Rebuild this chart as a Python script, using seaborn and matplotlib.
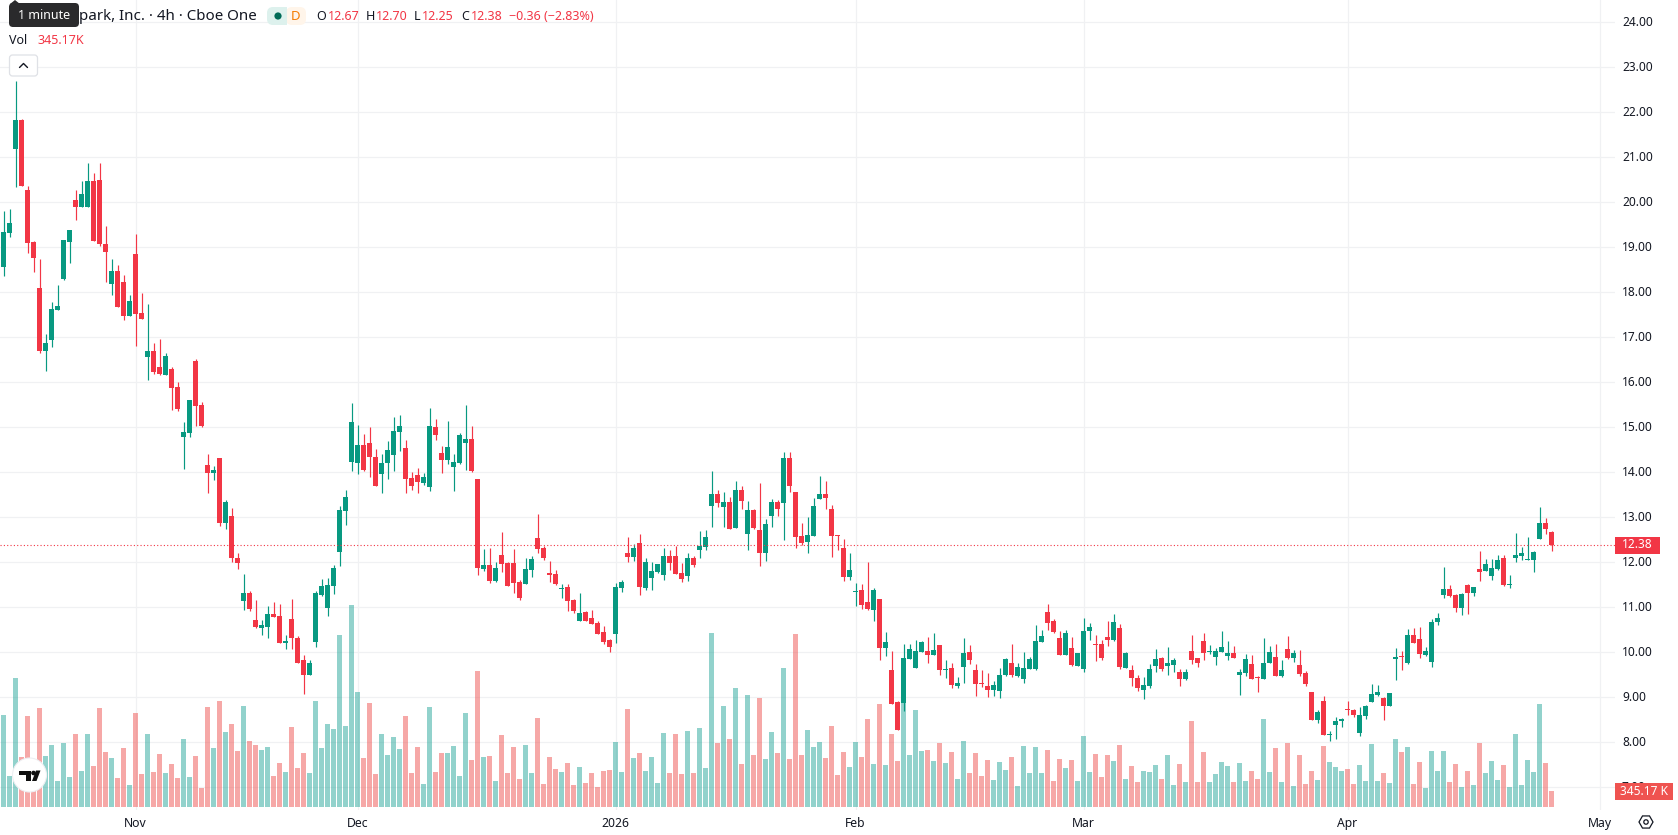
import matplotlib
matplotlib.use("Agg")
import matplotlib.pyplot as plt
from matplotlib.patches import Circle, FancyBboxPatch, Polygon, Rectangle, RegularPolygon
from matplotlib.transforms import ScaledTranslation
import numpy as np
import pandas as pd
import seaborn as sns

# Four-hour session prices, one entry per candle
opens = [
    18.56, 19.32, 21.18, 21.83, 20.27, 19.12, 18.10, 16.70, 16.94, 17.61,
    18.30, 19.12, 20.05, 19.90, 19.90, 20.47, 20.50, 19.07, 18.18, 18.47,
    18.23, 17.47, 18.85, 17.54, 16.56, 16.70, 16.34, 16.16, 16.30, 15.90,
    14.78, 14.87, 16.47, 15.50, 14.16, 13.98, 14.32, 12.87, 13.03, 12.10,
    11.14, 11.32, 10.72, 10.54, 10.56, 10.85, 10.81, 10.21, 10.74, 10.32,
    9.83, 9.50, 10.23, 11.27, 10.98, 11.47, 12.23, 13.14, 14.23, 14.21,
    14.61, 14.65, 14.34, 13.96, 14.21, 14.38, 14.90, 14.54, 13.87, 13.94,
    13.76, 13.67, 15.01, 14.43, 14.27, 14.12, 14.21, 14.65, 14.74, 13.85,
    11.85, 11.94, 11.58, 12.16, 11.98, 11.98, 11.56, 11.52, 11.83, 12.54,
    12.32, 11.76, 11.74, 11.41, 11.45, 11.16, 10.70, 10.90, 10.76, 10.65,
    10.45, 10.27, 10.41, 11.43, 12.21, 12.12, 12.43, 11.43, 11.65, 11.78,
    11.72, 12.14, 12.14, 11.76, 11.70, 12.10, 12.27, 12.34, 13.25, 13.52,
    13.23, 13.34, 12.76, 13.61, 12.63, 13.16, 12.72, 12.21, 13.03, 13.34,
    13.32, 14.32, 13.56, 12.58, 12.45, 12.58, 13.41, 13.52, 13.18, 12.61,
    12.32, 11.67, 11.34, 11.38, 11.12, 10.94, 11.18, 10.10, 9.61, 8.90,
    8.87, 9.85, 9.65, 10.01, 10.03, 9.94, 10.16, 9.61, 9.65, 9.25,
    9.67, 10.01, 9.61, 9.32, 9.25, 9.16, 9.14, 9.50, 9.76, 9.47,
    9.41, 9.63, 9.63, 10.23, 10.90, 10.70, 10.32, 9.94, 10.10, 9.70,
    9.63, 10.47, 10.18, 10.18, 10.34, 10.27, 10.54, 9.65, 9.61, 9.43,
    9.16, 9.25, 9.70, 9.87, 9.70, 9.72, 9.56, 9.41, 10.03, 9.87,
    10.25, 10.01, 9.90, 10.01, 9.92, 9.99, 9.50, 9.54, 9.74, 9.45,
    9.41, 9.76, 9.90, 9.47, 10.07, 9.87, 9.72, 9.54, 9.12, 8.50,
    8.92, 8.16, 8.39, 8.47, 8.74, 8.72, 8.21, 8.59, 8.90, 9.05,
    8.99, 8.81, 9.85, 9.92, 9.76, 10.39, 10.30, 9.94, 9.78, 10.68,
    11.28, 11.41, 11.28, 10.99, 11.50, 11.32, 11.85, 11.81, 11.70, 11.85,
    12.10, 11.50, 12.10, 12.14, 12.05, 12.05, 12.52, 12.87, 12.67,
]
highs = [
    19.81, 19.85, 22.70, 21.85, 20.36, 19.14, 18.74, 17.07, 17.78, 18.16,
    19.16, 19.38, 20.27, 20.47, 20.87, 20.65, 20.87, 19.47, 18.74, 18.61,
    18.38, 17.94, 19.30, 17.98, 17.74, 16.87, 16.96, 16.65, 16.34, 16.01,
    15.12, 15.61, 16.52, 15.56, 14.41, 14.14, 14.32, 13.38, 13.21, 12.21,
    11.74, 11.36, 11.16, 10.72, 11.03, 11.12, 11.07, 10.38, 11.18, 10.36,
    9.94, 9.83, 11.36, 11.63, 11.65, 11.94, 13.25, 13.61, 15.54, 15.05,
    14.85, 15.01, 14.52, 14.41, 14.70, 15.23, 15.27, 14.72, 14.01, 14.10,
    13.98, 15.43, 15.18, 14.58, 15.14, 14.41, 14.87, 15.50, 15.03, 13.85,
    12.30, 12.32, 12.01, 12.67, 12.01, 12.30, 11.61, 12.10, 12.14, 13.07,
    12.36, 12.03, 11.83, 11.52, 11.52, 11.18, 11.32, 10.92, 10.94, 10.70,
    10.58, 10.30, 11.54, 11.61, 12.56, 12.41, 12.63, 12.10, 12.01, 11.96,
    12.32, 12.27, 12.36, 11.98, 12.21, 12.14, 12.70, 12.72, 14.03, 13.61,
    13.56, 13.45, 13.81, 13.70, 13.36, 13.18, 13.76, 12.96, 13.41, 13.38,
    14.45, 14.45, 13.56, 12.87, 13.01, 13.43, 13.92, 13.81, 13.27, 12.61,
    12.52, 12.21, 11.54, 11.52, 12.01, 11.43, 11.18, 10.45, 10.03, 8.92,
    10.18, 10.18, 10.27, 10.25, 10.34, 10.43, 10.16, 9.83, 9.76, 9.45,
    10.32, 10.16, 9.74, 9.61, 9.54, 9.36, 9.65, 9.87, 10.18, 9.76,
    10.01, 9.90, 10.61, 10.50, 11.07, 10.74, 10.47, 10.50, 10.34, 9.98,
    10.76, 10.65, 10.38, 10.27, 10.70, 10.85, 10.63, 10.01, 9.72, 9.50,
    9.45, 9.74, 10.07, 9.90, 10.12, 9.87, 9.63, 9.63, 10.38, 9.87,
    10.43, 10.16, 10.10, 10.47, 10.25, 10.14, 9.63, 9.96, 9.94, 9.47,
    10.32, 10.14, 10.19, 9.83, 10.36, 10.05, 10.05, 9.58, 9.12, 8.72,
    9.03, 8.25, 8.56, 8.54, 8.92, 8.74, 8.79, 8.83, 9.30, 9.27,
    9.01, 9.10, 10.10, 10.03, 10.52, 10.54, 10.57, 10.12, 10.74, 10.88,
    11.90, 11.50, 11.30, 11.32, 11.52, 11.45, 12.25, 12.07, 12.07, 12.16,
    12.16, 11.72, 12.65, 12.34, 12.56, 12.25, 13.23, 12.98, 12.70,
]
lows = [
    18.36, 19.23, 20.34, 20.36, 18.87, 18.45, 16.65, 16.25, 16.78, 17.61,
    18.27, 18.65, 19.61, 19.90, 19.90, 19.14, 19.03, 18.23, 17.94, 17.67,
    17.38, 17.47, 16.81, 17.41, 16.05, 16.18, 16.16, 16.16, 15.38, 15.36,
    14.07, 14.78, 15.03, 15.01, 13.54, 13.83, 12.81, 12.74, 12.01, 11.85,
    10.94, 10.92, 10.54, 10.38, 10.32, 10.78, 10.21, 10.07, 10.07, 9.76,
    9.07, 9.50, 10.12, 11.25, 10.81, 11.30, 11.92, 12.83, 14.03, 13.96,
    14.03, 13.90, 13.70, 13.54, 13.85, 14.03, 14.47, 13.54, 13.61, 13.54,
    13.72, 13.58, 14.72, 13.98, 14.18, 13.58, 14.18, 14.05, 14.01, 11.72,
    11.81, 11.54, 11.56, 11.78, 11.47, 11.32, 11.16, 11.52, 11.67, 12.21,
    12.05, 11.56, 11.50, 11.21, 10.92, 10.87, 10.70, 10.70, 10.63, 10.41,
    10.18, 10.01, 10.21, 11.34, 12.01, 12.03, 11.27, 11.38, 11.38, 11.76,
    11.61, 11.83, 11.74, 11.56, 11.58, 11.90, 12.10, 12.27, 12.78, 13.23,
    12.78, 12.74, 12.76, 13.18, 12.27, 12.74, 11.92, 12.03, 12.78, 13.03,
    12.50, 13.56, 12.32, 12.38, 12.21, 12.58, 13.41, 13.18, 12.12, 12.27,
    11.58, 11.61, 11.03, 10.96, 10.94, 10.70, 9.83, 9.92, 8.85, 8.27,
    8.70, 9.85, 9.65, 10.01, 9.76, 9.94, 9.50, 9.43, 9.21, 9.21,
    9.32, 9.74, 9.03, 9.23, 9.01, 9.03, 8.98, 9.47, 9.45, 9.45,
    9.32, 9.63, 9.61, 10.23, 10.50, 10.43, 9.94, 9.94, 9.70, 9.70,
    9.56, 10.27, 9.81, 9.83, 10.14, 10.25, 9.63, 9.65, 9.25, 9.14,
    8.96, 9.21, 9.56, 9.58, 9.50, 9.56, 9.25, 9.38, 9.74, 9.67,
    9.83, 9.96, 9.72, 10.01, 9.83, 9.87, 9.05, 9.47, 9.41, 9.12,
    9.41, 9.76, 9.47, 9.45, 9.85, 9.78, 9.47, 9.25, 8.50, 8.43,
    8.16, 8.03, 8.07, 8.34, 8.61, 8.56, 8.14, 8.52, 8.90, 9.03,
    8.50, 8.81, 9.39, 9.61, 9.74, 10.21, 9.87, 9.92, 9.67, 10.61,
    11.21, 11.23, 10.90, 10.83, 10.85, 11.25, 11.59, 11.81, 11.61, 11.83,
    11.48, 11.43, 12.01, 12.05, 12.05, 11.79, 12.52, 12.63, 12.25,
]
closes = [
    19.34, 19.54, 21.83, 20.36, 19.10, 18.76, 16.70, 16.87, 17.63, 17.70,
    19.16, 19.38, 19.90, 20.18, 20.47, 19.14, 19.07, 18.90, 18.47, 17.67,
    17.47, 17.81, 17.52, 17.41, 16.70, 16.23, 16.18, 16.58, 15.87, 15.41,
    14.90, 15.61, 15.47, 15.03, 13.98, 14.05, 12.87, 13.34, 12.10, 11.98,
    11.32, 10.96, 10.56, 10.61, 10.85, 10.78, 10.21, 10.25, 10.32, 9.76,
    9.50, 9.76, 11.32, 11.47, 11.50, 11.87, 13.16, 13.45, 15.12, 14.61,
    14.05, 14.34, 13.70, 14.21, 14.50, 14.92, 15.03, 13.85, 13.70, 13.78,
    13.90, 15.03, 14.83, 14.27, 14.56, 14.23, 14.83, 14.74, 14.03, 11.87,
    11.94, 11.58, 11.87, 11.96, 11.47, 11.54, 11.21, 11.85, 12.07, 12.30,
    12.10, 11.72, 11.52, 11.43, 11.14, 10.92, 10.87, 10.70, 10.63, 10.41,
    10.23, 10.12, 11.45, 11.56, 12.12, 12.32, 11.45, 12.01, 11.81, 11.96,
    12.14, 11.98, 11.74, 11.63, 12.10, 11.94, 12.36, 12.56, 13.52, 13.32,
    13.34, 12.74, 13.61, 13.36, 13.16, 12.76, 12.21, 12.85, 13.34, 13.18,
    14.32, 13.70, 12.56, 12.43, 12.61, 13.25, 13.52, 13.43, 12.58, 12.58,
    11.67, 11.83, 11.36, 11.05, 10.96, 11.38, 10.10, 10.23, 8.85, 8.27,
    9.87, 10.07, 10.03, 10.23, 9.94, 10.05, 9.61, 9.63, 9.27, 9.32,
    9.98, 9.83, 9.30, 9.30, 9.16, 9.27, 9.50, 9.85, 9.50, 9.67,
    9.65, 9.85, 10.25, 10.36, 10.65, 10.45, 9.94, 10.43, 9.72, 9.98,
    10.47, 10.56, 10.16, 9.87, 10.27, 10.67, 9.67, 9.98, 9.43, 9.21,
    9.27, 9.63, 9.85, 9.63, 9.76, 9.83, 9.41, 9.56, 9.83, 9.76,
    9.98, 10.03, 10.03, 10.12, 9.99, 9.87, 9.56, 9.85, 9.41, 9.43,
    9.76, 10.01, 9.47, 9.61, 9.87, 9.99, 9.52, 9.30, 8.50, 8.67,
    8.16, 8.19, 8.47, 8.52, 8.72, 8.61, 8.61, 8.81, 9.07, 9.12,
    8.81, 9.10, 9.90, 9.90, 10.39, 10.21, 9.96, 10.03, 10.68, 10.77,
    11.41, 11.25, 10.99, 11.30, 11.32, 11.45, 11.79, 11.96, 11.87, 12.05,
    11.50, 11.52, 12.16, 12.21, 12.07, 12.23, 12.87, 12.74, 12.38,
]
# Traded volume per candle, in thousands of shares
volumes = [
    1984, 669, 2783, 1079, 1963, 791, 2135, 1100, 1337, 561,
    1380, 647, 1575, 777, 1575, 884, 2135, 1186, 1057, 626,
    1273, 475, 2028, 712, 1575, 755, 1143, 733, 928, 626,
    1467, 647, 1100, 410, 2157, 1273, 2286, 1618, 1790, 1208,
    2179, 1424, 1337, 1229, 1294, 669, 949, 755, 1726, 841,
    1165, 733, 2286, 1273, 1790, 1682, 3710, 1747, 4357, 2481,
    1057, 2243, 712, 1575, 1122, 1510, 1251, 1963, 733, 1294,
    496, 2157, 755, 1165, 1165, 1316, 669, 2028, 1014, 2934,
    1079, 1100, 561, 1553, 733, 1294, 604, 1337, 733, 1920,
    496, 1079, 820, 755, 949, 475, 863, 518, 733, 431,
    777, 798, 1402, 755, 2114, 1057, 1165, 777, 1079, 518,
    1596, 733, 1575, 712, 1639, 733, 1704, 841, 3753, 1380,
    2179, 1467, 2567, 928, 2416, 1122, 2351, 1035, 1618, 1165,
    2998, 1035, 3732, 1122, 1661, 1294, 1402, 1057, 1747, 690,
    1186, 863, 1402, 1079, 1898, 928, 2222, 906, 1575, 992,
    2243, 1122, 2092, 1208, 1229, 992, 1380, 949, 1186, 604,
    1424, 733, 1165, 669, 1014, 582, 971, 798, 1079, 453,
    1316, 733, 1294, 733, 1229, 561, 1035, 841, 1014, 561,
    1531, 755, 1143, 647, 1122, 992, 1337, 604, 884, 539,
    777, 755, 906, 604, 1122, 475, 928, 539, 1855, 539,
    1186, 539, 712, 971, 884, 539, 949, 561, 777, 604,
    1898, 755, 1273, 539, 1380, 453, 1122, 496, 777, 582,
    1316, 971, 863, 777, 820, 496, 906, 561, 1359, 561,
    733, 518, 1467, 1186, 1294, 496, 971, 410, 1208, 777,
    1208, 539, 928, 431, 777, 475, 1380, 733, 992, 582,
    906, 431, 1575, 475, 1014, 755, 2222, 949, 345.17,
]

# Calendar axis: candle position of each label, and its text
time_tick_pos = [22, 59, 102, 142, 180, 224, 266]
time_tick_text = ["Nov", "Dec", "2026", "Feb", "Mar", "Apr", "May"]
price_ticks = list(range(7, 25))

last_price = closes[-1]
last_volume_text = "345.17 K"

UP = "#089981"
DOWN = "#F23645"
VOL_UP = "#26A69A"
VOL_DOWN = "#EF5350"
GRID = "#F0F1F3"
INK = "#131722"
FONT = ["Noto Sans", "DejaVu Sans"]

sns.set_theme(style="white")
plt.rcParams["font.family"] = FONT

W, H = 1678, 835
PANE_W, PANE_H = 1615, 810
fig = plt.figure(figsize=(W / 100, H / 100), dpi=100, facecolor="white")

frame = pd.DataFrame({
    "pos": np.arange(len(closes)),
    "open": opens, "high": highs, "low": lows, "close": closes, "volume": volumes,
})
frame["side"] = np.where(frame["close"] >= frame["open"], "up", "down")

pane = [0, 1 - PANE_H / H, PANE_W / W, PANE_H / H]
ax = fig.add_axes(pane, zorder=1)           # grid and scales
vax = fig.add_axes(pane, zorder=2)          # volume histogram, above the grid
cax = fig.add_axes(pane, zorder=3)          # candles, above the volume
vax.patch.set_visible(False)
cax.patch.set_visible(False)

# Volume histogram sits on its own scale along the bottom of the pane
sns.barplot(
    data=frame, x="pos", y="volume", hue="side", native_scale=True, dodge=False,
    palette={"up": VOL_UP, "down": VOL_DOWN}, saturation=1, alpha=0.5,
    width=5 / 6, linewidth=0, legend=False, ax=vax,
)
vax.set_ylim(-65, 17407)

# Candles: wick first, then the body over it
colors = frame["side"].map({"up": UP, "down": DOWN})
cax.vlines(frame["pos"], frame["low"], frame["high"], colors=colors, linewidth=0.85, zorder=3)
cax.bar(frame["pos"], (frame["close"] - frame["open"]).abs(),
        bottom=frame[["open", "close"]].min(axis=1), width=5 / 6,
        color=colors, linewidth=0, zorder=4)
cax.axhline(last_price, color=DOWN, linewidth=0.8, linestyle=(0, (1, 2)), zorder=5)

xlim = (-3.5 / 6, (PANE_W - 3.5) / 6)
ylim = (11 - (PANE_H - 607.3) / 45, 11 + 607.3 / 45)
for a in (ax, cax):
    a.set_xlim(xlim)
    a.set_ylim(ylim)
vax.set_xlim(xlim)
vax.axis("off")
cax.axis("off")

ax.set_yticks(price_ticks)
ax.set_yticklabels([f"{p:.2f}" for p in price_ticks], fontsize=8.6, color=INK)
ax.yaxis.tick_right()
ax.set_xticks(time_tick_pos)
ax.set_xticklabels(time_tick_text, fontsize=8.8, color=INK)
for tick_label in ax.get_xticklabels():
    if tick_label.get_text() == "2026":
        tick_label.set_fontweight("bold")
ax.tick_params(axis="both", length=0)
ax.tick_params(axis="y", pad=5)
ax.tick_params(axis="x", pad=5)
# Price labels sit a pixel above their grid lines
nudge = ScaledTranslation(0, 1 / 100, fig.dpi_scale_trans)
for tick_label in ax.get_yticklabels():
    tick_label.set_transform(tick_label.get_transform() + nudge)
ax.grid(True, color=GRID, linewidth=0.9)
ax.set_axisbelow(True)
for spine in ax.spines.values():
    spine.set_visible(False)

# Pixel-addressed layer for the legend strip, price tags and widgets
ui = fig.add_axes([0, 0, 1, 1], zorder=20)
ui.set_xlim(0, W)
ui.set_ylim(H, 0)
ui.axis("off")
ui.patch.set_visible(False)


def label(x, y, text, color=INK, size=9.0, ha="left", weight="normal"):
    ui.text(x, y, text, color=color, fontsize=size, ha=ha, va="center", fontweight=weight)


def pill(x, y, w, h, face, edge="none", round_px=3, lw=0.0):
    ui.add_patch(FancyBboxPatch((x + round_px, y + round_px), w - 2 * round_px, h - 2 * round_px,
                                boxstyle=f"round,pad={round_px},rounding_size={round_px}",
                                facecolor=face, edgecolor=edge, linewidth=lw, mutation_aspect=1))


# Symbol line
label(79, 16.5, "park, Inc. · 4h · Cboe One", size=10.9)
pill(267, 7, 21, 18, "#DDF1ED", round_px=6)
pill(286, 7, 20, 18, "#FFF5EA", round_px=6)
ui.add_patch(Rectangle((279, 7), 8, 18, facecolor="#DDF1ED", linewidth=0))
ui.add_patch(Circle((278, 16), 3.6, facecolor="#006B57", linewidth=0))
label(296, 16.5, "D", color="#F57C00", size=9.5, ha="center", weight="bold")

for x, text, color in [
    (316, "O", INK), (328, "12.67", DOWN),
    (366, "H", INK), (376, "12.70", DOWN),
    (414, "L", INK), (422, "12.25", DOWN),
    (461, "C", INK), (471, "12.38", DOWN),
    (509, "−0.36 (−2.83%)", DOWN),
]:
    label(x, 16.5, text, color=color, size=9.0)

label(9, 40.5, "Vol", size=9.0)
label(37, 40.5, "345.17K", color=DOWN, size=9.0)

# Hover tooltip on the symbol name
pill(9, 3, 70, 24, "#2A2A2C", round_px=4)
ui.add_patch(Polygon([(10, 4), (15, 0), (20, 4)], facecolor="#2A2A2C", linewidth=0))
label(44, 15.5, "1 minute", color="white", size=9.0, ha="center")

# Collapse button
pill(9.5, 55, 28, 21, "white", edge="#DFE1E6", round_px=3, lw=0.9)
ui.plot([19.5, 23.5, 27.5], [67.5, 63.5, 67.5], color=INK, linewidth=1.0)

# Logo badge
ui.add_patch(Circle((29.5, 775), 17, facecolor="white", edgecolor="#EDEFF2", linewidth=0.8))
ui.add_patch(Polygon([(19, 770.5), (31, 770.5), (31, 781), (26, 781), (26, 775), (19, 775)],
                     facecolor="#0F0F0F", linewidth=0))
ui.add_patch(Circle((33.5, 773), 2.3, facecolor="#0F0F0F", linewidth=0))
ui.add_patch(Polygon([(35, 781), (36.5, 781), (40.5, 770.5), (36, 770.5), (32, 781)],
                     facecolor="#0F0F0F", linewidth=0))

# Price-scale tags
ui.add_patch(Rectangle((1615, 536.5), 45, 17, facecolor=DOWN, linewidth=0))
label(1637.5, 545, f"{last_price:.2f}", color="white", size=8.6, ha="center")
ui.add_patch(Rectangle((1615, 783), 58, 17, facecolor=VOL_DOWN, linewidth=0))
label(1644, 791.5, last_volume_text, color="white", size=8.6, ha="center")

# Settings gear
ui.add_patch(RegularPolygon((1646, 822), 6, radius=7, orientation=np.pi / 6, facecolor="none",
                            edgecolor=INK, linewidth=0.9))
ui.add_patch(Circle((1646, 822), 2.2, facecolor="none", edgecolor=INK, linewidth=0.9))

fig.savefig("out.png", dpi=100, facecolor="white")
